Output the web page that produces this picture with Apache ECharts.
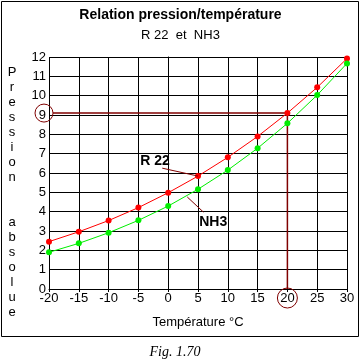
<!DOCTYPE html>
<html><head><meta charset="utf-8">
<script src="https://cdn.jsdelivr.net/npm/echarts@6/dist/echarts.min.js"></script>
<style>html,body{margin:0;padding:0;background:#fff}#c{width:361px;height:362px}</style>
</head><body><div id="c"></div>
<script>
const temperatures = [-20, -15, -10, -5, 0, 5, 10, 15, 20, 25, 30];
const r22 = [2.45, 2.96, 3.54, 4.21, 4.98, 5.84, 6.81, 7.89, 9.10, 10.43, 11.92];
const nh3 = [1.90, 2.36, 2.91, 3.55, 4.29, 5.16, 6.15, 7.28, 8.57, 10.03, 11.67];
const yLetters = ['P','r','e','s','s','i','o','n','','','a','b','s','o','l','u','e'];
const refPoint = [20, 9.10];
const r22Pointer = [[-1, 6.25], [5, 5.84]];
const r22LabelPos = [-4.7, 6.6];
const nh3Pointer = [[3.2, 4.76], [5.9, 3.98]];
const nh3LabelPos = [5.2, 3.47];

const chart = echarts.init(document.getElementById('c'));
const dark = '#800000';
const font = 'Liberation Sans, Arial, sans-serif';
chart.setOption({
  animation: false,
  backgroundColor: '#fff',
  title: {
    text: 'Relation pression/température',
    subtext: 'R 22  et  NH3',
    left: 'center', top: 3, itemGap: 7,
    textStyle: {fontSize: 14, fontWeight: 'bold', color: '#000', fontFamily: font},
    subtextStyle: {fontSize: 13, color: '#000', fontFamily: font}
  },
  grid: {left: 49, right: 14, top: 57, bottom: 73},
  xAxis: {
    type: 'value', min: -20, max: 30, interval: 5,
    name: 'Température °C', nameLocation: 'middle', nameGap: 27,
    nameTextStyle: {fontSize: 13, color: '#000', fontFamily: font},
    axisLine: {lineStyle: {color: '#000', width: 1}},
    axisTick: {show: true, length: 3, lineStyle: {color: '#000'}},
    axisLabel: {fontSize: 13, color: '#000', fontFamily: font, margin: 3},
    splitLine: {show: true, lineStyle: {color: '#000', width: 1}}
  },
  yAxis: {
    type: 'value', min: 0, max: 12, interval: 1,
    axisLine: {show: true, lineStyle: {color: '#000', width: 1}},
    axisTick: {show: true, length: 3, lineStyle: {color: '#000'}},
    axisLabel: {fontSize: 13, color: '#000', fontFamily: font, margin: 3},
    splitLine: {show: true, lineStyle: {color: '#000', width: 1}}
  },
  series: [
    {type: 'line', name: 'R 22', data: temperatures.map((t, i) => [t, r22[i]]),
     symbol: 'circle', symbolSize: 6, itemStyle: {color: '#ff0000'},
     lineStyle: {color: '#ff0000', width: 1}, z: 5},
    {type: 'line', name: 'NH3', data: temperatures.map((t, i) => [t, nh3[i]]),
     symbol: 'circle', symbolSize: 6, itemStyle: {color: '#00ee00'},
     lineStyle: {color: '#00ee00', width: 1}, z: 5}
  ]
});

const px = p => chart.convertToPixel({gridIndex: 0}, p);
const ref = px(refPoint);
const origin = px([-20, 0]);
const yTickPx = px([-20, refPoint[1]]);
const xTickPx = px([refPoint[0], 0]);
const circ9 = [yTickPx[0] - 5, yTickPx[1]];
const circ20 = [xTickPx[0], xTickPx[1] + 9];
const rA = px(r22Pointer[0]), rB = px(r22Pointer[1]);
const nA = px(nh3Pointer[0]), nB = px(nh3Pointer[1]);
const rL = px(r22LabelPos), nL = px(nh3LabelPos);

chart.setOption({
  graphic: [
    {type: 'rect', shape: {x: 1.5, y: 1.5, width: 357, height: 335}, style: {fill: 'none', stroke: '#000', lineWidth: 1}, z: 0},
    {type: 'polyline', shape: {points: [[circ9[0] + 9, ref[1]], ref, [ref[0], origin[1]]]}, style: {stroke: dark, lineWidth: 1.5, fill: 'none'}, z: 4},
    {type: 'circle', shape: {cx: circ9[0], cy: circ9[1], r: 9}, style: {stroke: dark, fill: 'none', lineWidth: 1}, z: 4},
    {type: 'circle', shape: {cx: circ20[0], cy: circ20[1], r: 10}, style: {stroke: dark, fill: 'none', lineWidth: 1}, z: 4},
    {type: 'line', shape: {x1: rA[0], y1: rA[1], x2: rB[0], y2: rB[1]}, style: {stroke: dark, lineWidth: 1}, z: 6},
    {type: 'line', shape: {x1: nA[0], y1: nA[1], x2: nB[0], y2: nB[1]}, style: {stroke: dark, lineWidth: 1}, z: 6},
    {type: 'text', x: rL[0], y: rL[1], style: {text: 'R 22', fontSize: 14, fontWeight: 'bold', fill: '#000', fontFamily: font, verticalAlign: 'middle', align: 'left'}, z: 7},
    {type: 'text', x: nL[0], y: nL[1], style: {text: 'NH3', fontSize: 14, fontWeight: 'bold', fill: '#000', fontFamily: font, verticalAlign: 'middle', align: 'left'}, z: 7},
    {type: 'text', x: 12, y: 65, style: {text: yLetters.join('\n'), fontSize: 13, lineHeight: 15, fill: '#000', fontFamily: font, align: 'center', verticalAlign: 'top'}, z: 7},
    {type: 'text', x: 175, y: 352, style: {text: 'Fig. 1.70', fontSize: 14, fontStyle: 'italic', fill: '#000', fontFamily: 'Liberation Serif, serif', align: 'center', verticalAlign: 'middle'}, z: 7}
  ]
});
</script></body></html>
